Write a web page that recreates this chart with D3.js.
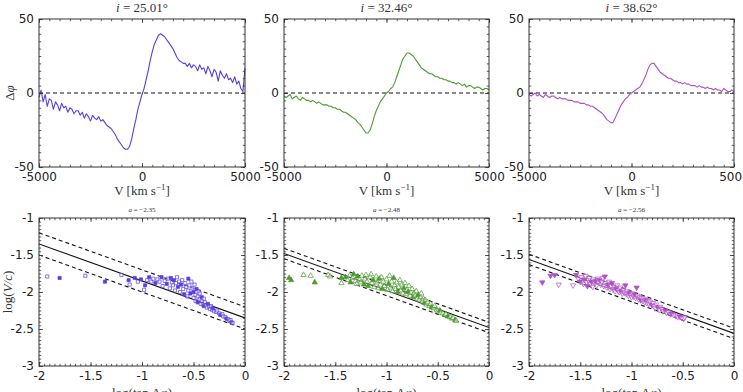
<!DOCTYPE html>
<html>
<head>
<meta charset="utf-8">
<script src="https://cdn.jsdelivr.net/npm/d3@7"></script>
<style>
  html, body { margin: 0; padding: 0; background: #fff; }
  svg { display: block; }
  .tick text { font-family: "DejaVu Sans", sans-serif; font-size: 12px; fill: #222; }
  .lbl { font-family: "Liberation Serif", "Times New Roman", serif; fill: #333; }
</style>
</head>
<body>
<div id="chart"></div>
<script>
// === Data ===
const titles = ["25.01", "32.46", "38.62"];
const slopes = ["−2.35", "−2.48", "−2.56"];
const fitA = [-2.35, -2.48, -2.56];
const fitBand = [0.15, 0.07, 0.07];
const colors = ["#5a3ee0", "#4d9a2f", "#b050c8"];

const velocity = [-5000,-4900,-4800,-4700,-4600,-4500,-4400,-4300,-4200,-4100,-4000,-3900,-3800,-3700,-3600,-3500,-3400,-3300,-3200,-3100,-3000,-2900,-2800,-2700,-2600,-2500,-2400,-2300,-2200,-2100,-2000,-1900,-1800,-1700,-1600,-1500,-1400,-1300,-1200,-1100,-1000,-900,-800,-700,-600,-500,-400,-300,-200,-100,0,100,200,300,400,500,600,700,800,900,1000,1100,1200,1300,1400,1500,1600,1700,1800,1900,2000,2100,2200,2300,2400,2500,2600,2700,2800,2900,3000,3100,3200,3300,3400,3500,3600,3700,3800,3900,4000,4100,4200,4300,4400,4500,4600,4700,4800,4900,5000];

const dphi1 = [-3,2,-6,-1,-9,-4,-5,-11,-6,-8, -12,-7,-10,-9,-13,-10,-11,-14,-12,-12, -15,-13,-17,-14,-16,-19,-15,-17,-18,-16, -19,-18,-20,-22,-23,-24,-26,-28,-31,-33, -35,-37,-38,-38,-36,-31,-24,-18,-11,-6, -1, 3,9,15,22,28,33,36,39,40,39, 38,36,34,32,30,27,24,22,21,20, 20,18,20,17,19,18,15,19,16,17, 13,18,15,11,16,14,8,15,12,10, 13,9,10,7,11,6,8,3,1,17];
const dphi2 = [-2,-3,-2,-1,-4,-3,-2,-4,-5,-3, -4,-5,-5,-6,-5,-6,-7,-6,-7,-8, -8,-8,-9,-9,-10,-10,-11,-11,-12,-13, -13,-14,-15,-16,-17,-18,-20,-21,-23,-25, -27,-27,-25,-21,-16,-12,-9,-6,-4,-2, 0, 1,3,4,7,11,15,19,23,25,27, 27,26,25,23,21,19,17,16,15,14, 13,13,12,11,11,10,10,9,9,8, 8,7,7,6,7,6,5,6,4,5, 5,4,3,4,4,3,2,3,3,2];
const dphi3 = [-1,-2,-1,0,-2,-1,-2,-3,-1,-2, -3,-2,-2,-3,-4,-3,-4,-4,-4,-5, -5,-5,-6,-6,-6,-7,-7,-7,-8,-8, -9,-9,-10,-11,-12,-13,-14,-16,-18,-19, -20,-20,-17,-14,-11,-8,-6,-4,-3,-1, 0, 1,2,3,4,6,9,12,16,19,20, 20,18,16,14,13,12,11,10,10,9, 8,8,7,7,6,7,6,6,5,5, 5,4,5,4,4,3,4,3,3,2, 3,2,2,1,3,2,1,1,2,1];
const dphiSeries = [dphi1, dphi2, dphi3];

// [log(tan Δφ), log(V/c), filled]
const scatter1 = [[-1.92,-1.79,0],[-1.80,-1.81,1],[-1.55,-1.78,0],[-1.36,-1.86,1],[-1.20,-1.77,0],[-1.13,-1.84,1],[-1.12,-1.90,0],[-1.07,-1.81,1],[-1.04,-1.86,0],[-1.01,-1.83,1],[-0.98,-1.97,0],[-0.97,-1.91,1],[-0.95,-1.84,0],[-0.93,-1.80,1],[-0.91,-1.86,0],[-0.89,-1.82,0],[-0.87,-1.88,1],[-0.85,-1.83,0],[-0.83,-1.86,0],[-0.81,-1.80,1],[-0.80,-1.92,0],[-0.78,-1.85,0],[-0.76,-1.89,1],[-0.75,-1.82,0],[-0.73,-1.95,0],[-0.72,-1.81,1],[-0.71,-1.87,0],[-0.70,-1.91,0],[-0.69,-1.84,1],[-0.68,-1.98,0],[-0.67,-1.88,0],[-0.66,-1.80,0],[-0.65,-1.93,1],[-0.64,-1.86,0],[-0.63,-2.00,0],[-0.62,-1.90,1],[-0.61,-1.84,0],[-0.60,-1.96,0],[-0.59,-2.03,1],[-0.58,-1.88,0],[-0.57,-1.93,0],[-0.56,-2.06,0],[-0.55,-1.82,1],[-0.55,-1.98,0],[-0.54,-1.91,0],[-0.53,-2.02,1],[-0.52,-1.86,0],[-0.51,-1.95,0],[-0.50,-2.08,0],[-0.50,-2.00,1],[-0.49,-1.90,0],[-0.48,-2.04,0],[-0.48,-2.12,0],[-0.47,-1.96,1],[-0.46,-2.06,0],[-0.46,-2.14,1],[-0.45,-1.99,0],[-0.44,-2.10,0],[-0.44,-2.02,0],[-0.43,-2.16,0],[-0.42,-2.07,1],[-0.42,-2.12,0],[-0.41,-2.17,0],[-0.40,-2.09,0],[-0.40,-2.19,1],[-0.39,-2.14,0],[-0.38,-2.18,0],[-0.37,-2.21,0],[-0.36,-2.16,1],[-0.35,-2.20,0],[-0.34,-2.23,0],[-0.33,-2.19,0],[-0.32,-2.24,0],[-0.31,-2.22,1],[-0.30,-2.26,0],[-0.28,-2.27,0],[-0.27,-2.25,0],[-0.25,-2.29,0],[-0.24,-2.31,1],[-0.22,-2.30,0],[-0.21,-2.33,0],[-0.19,-2.34,0],[-0.18,-2.36,1],[-0.16,-2.37,0],[-0.15,-2.39,0],[-0.14,-2.38,0],[-0.13,-2.41,1],[-0.12,-2.42,0]];
const scatter2 = [[-1.95,-1.81,1],[-1.93,-1.84,1],[-1.81,-1.77,0],[-1.74,-1.78,0],[-1.70,-1.87,1],[-1.57,-1.77,0],[-1.55,-1.79,0],[-1.44,-1.81,1],[-1.44,-1.88,0],[-1.40,-1.80,1],[-1.38,-1.84,0],[-1.36,-1.78,0],[-1.35,-1.87,1],[-1.33,-1.81,0],[-1.32,-1.76,1],[-1.30,-1.85,0],[-1.29,-1.89,0],[-1.28,-1.79,1],[-1.26,-1.83,0],[-1.25,-1.87,0],[-1.24,-1.78,0],[-1.22,-1.90,1],[-1.21,-1.82,0],[-1.20,-1.77,0],[-1.19,-1.86,0],[-1.18,-1.92,1],[-1.16,-1.80,0],[-1.15,-1.76,0],[-1.14,-1.88,0],[-1.13,-1.84,1],[-1.12,-1.93,0],[-1.10,-1.79,0],[-1.09,-1.87,0],[-1.08,-1.95,0],[-1.07,-1.82,1],[-1.06,-1.90,0],[-1.05,-1.80,0],[-1.04,-1.96,1],[-1.03,-1.86,0],[-1.02,-1.92,0],[-1.00,-1.83,0],[-0.99,-1.97,0],[-0.98,-1.89,1],[-0.97,-1.78,0],[-0.96,-1.94,0],[-0.95,-1.86,0],[-0.94,-1.99,0],[-0.93,-1.81,1],[-0.92,-1.91,0],[-0.91,-1.96,0],[-0.90,-1.87,0],[-0.89,-2.00,1],[-0.88,-1.93,0],[-0.87,-1.84,0],[-0.86,-1.98,0],[-0.85,-1.90,0],[-0.84,-2.02,0],[-0.83,-1.95,1],[-0.82,-1.88,0],[-0.81,-2.03,0],[-0.80,-1.97,0],[-0.79,-2.00,1],[-0.78,-1.92,0],[-0.77,-2.05,0],[-0.76,-2.01,0],[-0.75,-1.96,0],[-0.74,-2.07,1],[-0.73,-2.02,0],[-0.72,-2.05,0],[-0.71,-1.99,0],[-0.70,-2.09,0],[-0.69,-2.04,1],[-0.68,-2.11,0],[-0.67,-2.07,0],[-0.66,-2.02,0],[-0.65,-2.13,0],[-0.64,-2.09,0],[-0.63,-2.15,1],[-0.62,-2.11,0],[-0.61,-2.17,0],[-0.60,-2.14,0],[-0.58,-2.19,0],[-0.57,-2.16,0],[-0.56,-2.21,1],[-0.54,-2.22,0],[-0.53,-2.19,0],[-0.51,-2.24,0],[-0.50,-2.26,0],[-0.48,-2.25,1],[-0.47,-2.28,0],[-0.45,-2.29,0],[-0.43,-2.31,0],[-0.42,-2.30,0],[-0.40,-2.33,1],[-0.38,-2.34,0],[-0.36,-2.36,0],[-0.35,-2.35,0],[-0.33,-2.38,1],[-0.32,-2.39,0]];
const scatter3 = [[-1.87,-1.87,1],[-1.79,-1.78,1],[-1.75,-1.77,1],[-1.71,-1.90,0],[-1.57,-1.91,0],[-1.54,-1.77,1],[-1.52,-1.82,0],[-1.50,-1.86,1],[-1.49,-1.80,0],[-1.47,-1.89,0],[-1.46,-1.83,1],[-1.45,-1.78,0],[-1.44,-1.87,0],[-1.43,-1.92,1],[-1.42,-1.84,0],[-1.41,-1.81,0],[-1.40,-1.89,0],[-1.39,-1.86,1],[-1.38,-1.93,0],[-1.37,-1.83,0],[-1.36,-1.88,0],[-1.35,-1.85,1],[-1.34,-1.91,0],[-1.33,-1.82,0],[-1.32,-1.87,0],[-1.31,-1.84,1],[-1.30,-1.90,0],[-1.29,-1.86,0],[-1.28,-1.81,0],[-1.27,-1.92,0],[-1.26,-1.79,1],[-1.25,-1.88,0],[-1.24,-1.94,0],[-1.23,-1.90,1],[-1.22,-1.86,0],[-1.21,-1.96,0],[-1.20,-1.92,0],[-1.19,-1.88,1],[-1.18,-1.97,0],[-1.17,-1.93,0],[-1.16,-1.99,0],[-1.15,-1.95,1],[-1.14,-1.91,0],[-1.13,-1.98,0],[-1.12,-2.00,0],[-1.11,-1.94,0],[-1.10,-1.99,1],[-1.09,-2.02,0],[-1.08,-1.97,0],[-1.07,-2.01,0],[-1.06,-1.91,1],[-1.05,-2.03,0],[-1.04,-1.99,0],[-1.03,-2.05,0],[-1.02,-2.01,1],[-1.01,-2.04,0],[-1.00,-2.07,0],[-0.99,-2.02,0],[-0.98,-2.06,0],[-0.97,-2.03,1],[-0.96,-2.08,0],[-0.95,-1.94,1],[-0.94,-2.05,0],[-0.93,-2.10,0],[-0.92,-2.07,0],[-0.91,-2.11,1],[-0.90,-2.08,0],[-0.89,-2.12,0],[-0.88,-2.09,0],[-0.87,-2.14,0],[-0.86,-2.11,1],[-0.85,-2.15,0],[-0.84,-2.12,0],[-0.83,-2.16,0],[-0.82,-2.13,0],[-0.80,-2.18,1],[-0.79,-2.15,0],[-0.78,-2.19,0],[-0.77,-2.22,0],[-0.76,-2.17,0],[-0.74,-2.21,1],[-0.73,-2.24,0],[-0.72,-2.20,0],[-0.70,-2.23,0],[-0.69,-2.26,0],[-0.67,-2.25,1],[-0.66,-2.28,0],[-0.64,-2.27,0],[-0.62,-2.30,0],[-0.61,-2.29,1],[-0.59,-2.31,0],[-0.57,-2.32,0],[-0.55,-2.34,0],[-0.53,-2.33,1],[-0.51,-2.35,0],[-0.49,-2.36,0],[-0.48,-2.34,0]];
const scatterSeries = [scatter1, scatter2, scatter3];

// tick values
const vTicks = [-5000, 0, 5000];
const dphiTicks = [-50, 0, 50];
const logxTicks = [-2, -1.5, -1, -0.5, 0];
const logyTicks = [-3, -2.5, -2, -1.5, -1];

// === Layout ===
const width = 743, height = 392;
const colX = [[39, 245], [284, 489], [529, 734]];
const topY = [19, 167];
const botY = [218, 366];

const svg = d3.select("#chart").append("svg")
  .attr("width", width).attr("height", height);

const fmt = (d) => String(d);

// box with inward major + minor ticks on all four sides
function frame(g, x, y, majX, majY, minX, minY) {
  const [x0, x1] = x.range();
  const [y0, y1] = y.range(); // y0 bottom, y1 top
  const sides = [
    [d3.axisBottom(x), `translate(0,${y0})`, majX, minX, true],
    [d3.axisTop(x), `translate(0,${y1})`, majX, minX, false],
    [d3.axisLeft(y), `translate(${x0},0)`, majY, minY, true],
    [d3.axisRight(y), `translate(${x1},0)`, majY, minY, false],
  ];
  sides.forEach(([ax, tr, maj, min, showLbl]) => {
    g.append("g").attr("transform", tr)
      .call(ax.tickValues(min).tickSize(-2.2).tickFormat(""))
      .call((s) => s.select(".domain").remove())
      .selectAll("line").attr("stroke", "#333").attr("stroke-width", 0.8);
    const a = g.append("g").attr("transform", tr)
      .call(ax.tickValues(maj).tickSize(-4).tickPadding(5)
        .tickFormat(showLbl ? fmt : ""));
    a.select(".domain").remove();
    a.selectAll("line").attr("stroke", "#333").attr("stroke-width", 0.8);
  });
  g.append("rect")
    .attr("x", x0).attr("y", y1)
    .attr("width", x1 - x0).attr("height", y0 - y1)
    .attr("fill", "none").attr("stroke", "#333").attr("stroke-width", 1);
}

const vMinor = d3.range(-5000, 5001, 500);
const dMinor = d3.range(-50, 51, 5);
const lxMinor = d3.range(-40, 1).map((k) => k * 0.05);
const lyMinor = d3.range(-60, -19).map((k) => k * 0.05);

colX.forEach((cx, i) => {
  const color = colors[i];

  // ---- top panel ----
  const x = d3.scaleLinear().domain([-5000, 5000]).range(cx);
  const y = d3.scaleLinear().domain([-50, 50]).range(topY.slice().reverse());
  const g = svg.append("g");

  g.append("line")
    .attr("x1", x(-5000)).attr("x2", x(5000))
    .attr("y1", y(0)).attr("y2", y(0))
    .attr("stroke", "#111").attr("stroke-width", 1.1)
    .attr("stroke-dasharray", "4,3");

  const line = d3.line().x((d) => x(d[0])).y((d) => y(d[1]));
  g.append("path")
    .datum(velocity.map((v, k) => [v, dphiSeries[i][k]]))
    .attr("d", line)
    .attr("fill", "none").attr("stroke", color)
    .attr("stroke-width", 1.1).attr("stroke-linejoin", "round");

  frame(g, x, y, vTicks, dphiTicks, vMinor, dMinor);

  g.append("text").attr("class", "lbl")
    .attr("x", (cx[0] + cx[1]) / 2).attr("y", 12)
    .attr("text-anchor", "middle").attr("font-size", 13)
    .html(`<tspan font-style="italic">i</tspan> = ${titles[i]}°`);

  g.append("text").attr("class", "lbl")
    .attr("x", (cx[0] + cx[1]) / 2).attr("y", 195)
    .attr("text-anchor", "middle").attr("font-size", 13)
    .html(`V [km s<tspan dy="-5" font-size="9">−1</tspan><tspan dy="5">]</tspan>`);

  // ---- bottom panel ----
  const bx = d3.scaleLinear().domain([-2, 0]).range(cx);
  const by = d3.scaleLinear().domain([-3, -1]).range(botY.slice().reverse());
  const b = svg.append("g");

  const clip = `clip${i}`;
  b.append("clipPath").attr("id", clip).append("rect")
    .attr("x", cx[0]).attr("y", botY[0])
    .attr("width", cx[1] - cx[0]).attr("height", botY[1] - botY[0]);

  const fit = (off) => [[-2, fitA[i] + 1 + off], [0, fitA[i] + off]];
  const fl = d3.line().x((d) => bx(d[0])).y((d) => by(d[1]));
  [[0, null], [fitBand[i], "4,3"], [-fitBand[i], "4,3"]].forEach(([off, dash]) => {
    b.append("path").attr("clip-path", `url(#${clip})`)
      .attr("d", fl(fit(off)))
      .attr("fill", "none").attr("stroke", "#111").attr("stroke-width", 1.1)
      .attr("stroke-dasharray", dash);
  });

  const sym = i === 0 ? d3.symbolSquare : d3.symbolTriangle;
  const size = i === 0 ? 10 : 12;
  b.selectAll("path.pt").data(scatterSeries[i]).enter().append("path")
    .attr("class", "pt")
    .attr("d", d3.symbol().type(sym).size(size))
    .attr("transform", (d) => `translate(${bx(d[0])},${by(d[1])})` + (i === 2 ? " rotate(180)" : ""))
    .attr("fill", (d) => (d[2] ? color : "#fff"))
    .attr("fill-opacity", (d) => (d[2] ? 1 : 0.5))
    .attr("stroke", color).attr("stroke-width", 0.7);

  frame(b, bx, by, logxTicks, logyTicks, lxMinor, lyMinor);

  b.append("text").attr("class", "lbl")
    .attr("x", (cx[0] + cx[1]) / 2).attr("y", 212)
    .attr("text-anchor", "middle").attr("font-size", 7)
    .html(`<tspan font-style="italic">a</tspan> = ${slopes[i]}`);

  b.append("text").attr("class", "lbl")
    .attr("x", (cx[0] + cx[1]) / 2).attr("y", 397)
    .attr("text-anchor", "middle").attr("font-size", 13)
    .html(`log(tan Δ<tspan font-style="italic">φ</tspan>)`);
});

// y-axis labels (left column only)
svg.append("text").attr("class", "lbl")
  .attr("transform", `translate(14,93) rotate(-90)`)
  .attr("text-anchor", "middle").attr("font-size", 13)
  .html(`Δ<tspan font-style="italic">φ</tspan>`);
svg.append("text").attr("class", "lbl")
  .attr("transform", `translate(12,292) rotate(-90)`)
  .attr("text-anchor", "middle").attr("font-size", 13)
  .html(`log(<tspan font-style="italic">V/c</tspan>)`);
</script>
</body>
</html>
